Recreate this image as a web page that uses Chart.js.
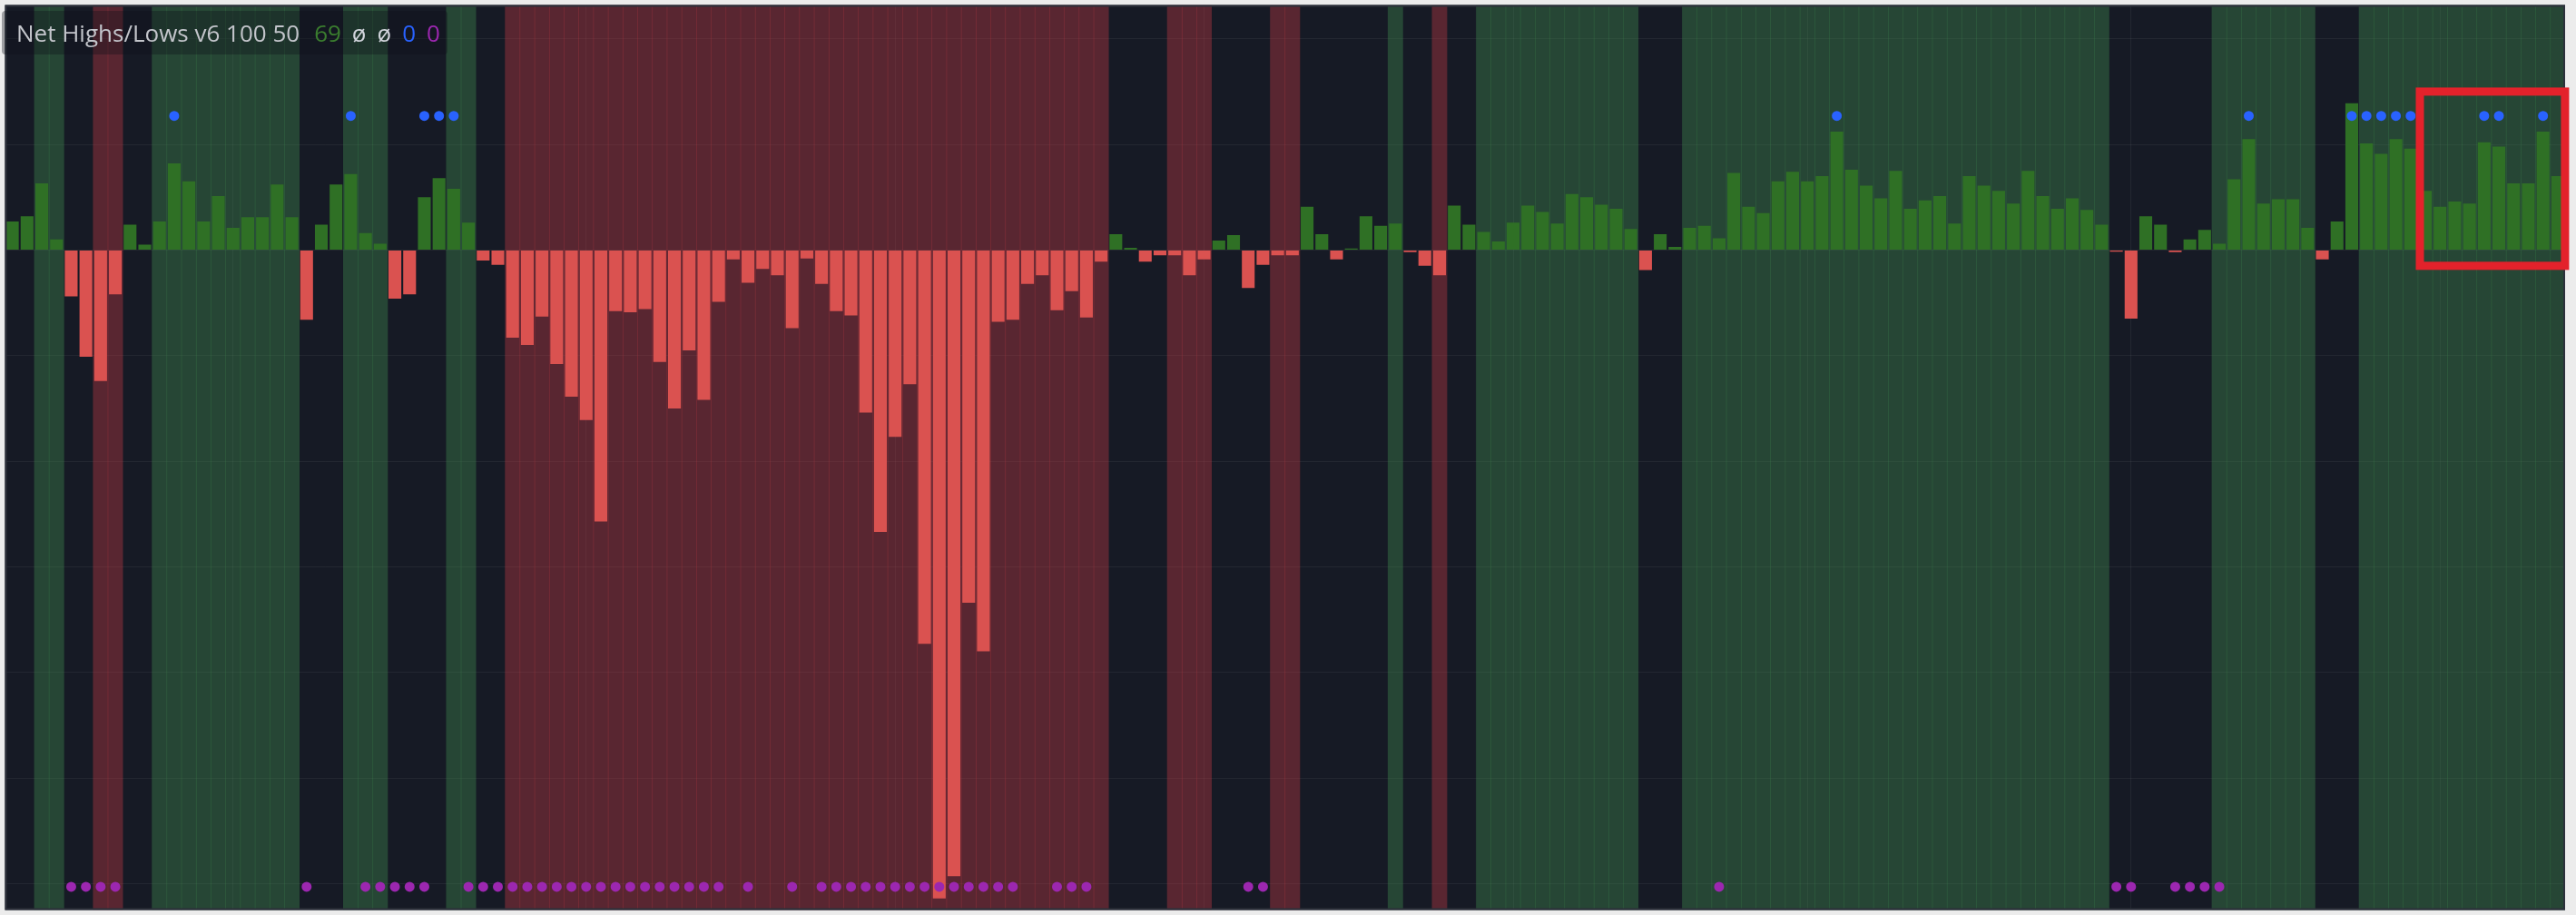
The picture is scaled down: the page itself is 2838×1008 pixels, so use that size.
<!DOCTYPE html>
<html lang="en">
<head>
<meta charset="UTF-8">
<title>Net Highs/Lows v6</title>
<script src="https://cdn.jsdelivr.net/npm/chart.js"></script>
<style>
    body {
        margin: 0;
        background: #ececec;
    }

    .wrap {
        position: relative;
        width: 2838px;
        height: 1008px;
    }

    .legend {
        position: absolute;
        left: 2px;
        top: 12px;
        height: 48px;
        line-height: 48px;
        padding: 0 8px 0 16px;
        background: rgba(14, 17, 26, 0.35);
        border-radius: 4px;
        font-family: "Open Sans", sans-serif;
        font-size: 26px;
        color: #c3c5cb;
        white-space: nowrap;
    }

    .legend span {
        margin-left: 12px;
    }

    .legend span.first {
        margin-left: 16px;
    }
</style>
</head>
<body>
<div class="wrap">
    <canvas id="nhnl"></canvas>
    <div class="legend">Net Highs/Lows v6 100 50<span class="first" style="color:#3b7d2f">69</span><span style="color:#d1d4dc">ø</span><span style="color:#d1d4dc">ø</span><span style="color:#2962ff">0</span><span style="color:#9c27b0">0</span></div>
</div>

<script>
    // net new highs minus new lows, one value per bar
    const netValues = [
        2.7, 3.2, 6.3, 1.0, -4.4, -10.1, -12.4, -4.2, 2.4, 0.5,
        2.7, 8.2, 6.5, 2.7, 5.1, 2.1, 3.1, 3.1, 6.2, 3.1,
        -6.6, 2.4, 6.2, 7.2, 1.6, 0.6, -4.6, -4.2, 5.0, 6.8,
        5.8, 2.6, -1.0, -1.4, -8.3, -9.0, -6.3, -10.8, -13.9, -16.1,
        -25.7, -5.8, -5.9, -5.6, -10.6, -15.0, -9.5, -14.2, -4.9, -0.9,
        -3.1, -1.8, -2.4, -7.4, -0.8, -3.2, -5.8, -6.2, -15.4, -26.7,
        -17.7, -12.7, -37.3, -61.4, -59.3, -33.4, -38.0, -6.8, -6.6, -3.2,
        -2.4, -5.7, -3.9, -6.4, -1.1, 1.5, 0.2, -1.1, -0.5, -0.5,
        -2.4, -0.9, 0.9, 1.4, -3.6, -1.4, -0.5, -0.5, 4.1, 1.5,
        -0.9, 0.15, 3.2, 2.3, 2.5, -0.2, -1.5, -2.4, 4.2, 2.4,
        1.7, 0.8, 2.6, 4.2, 3.6, 2.5, 5.3, 5.0, 4.3, 3.9,
        2.0, -1.9, 1.5, 0.3, 2.1, 2.3, 1.1, 7.3, 4.1, 3.5,
        6.5, 7.4, 6.5, 7.0, 11.2, 7.6, 6.1, 4.9, 7.5, 3.9,
        4.7, 5.1, 2.5, 7.0, 6.1, 5.6, 4.4, 7.5, 5.1, 3.9,
        4.9, 3.8, 2.4, -0.15, -6.5, 3.2, 2.4, -0.2, 1.0, 1.9,
        0.6, 6.7, 10.5, 4.4, 4.8, 4.8, 2.1, -0.9, 2.7, 13.9,
        10.1, 9.1, 10.5, 9.6, 5.6, 4.1, 4.6, 4.4, 10.2, 9.8,
        6.3, 6.3, 11.2, 7.0
    ];

    // background regime per bar: g = bullish, r = bearish, d = neutral
    const regimes = [
        'd','d','g','g','d','d','r','r','d','d',
        'g','g','g','g','g','g','g','g','g','g',
        'd','d','d','g','g','g','d','d','d','d',
        'g','g','d','d','r','r','r','r','r','r',
        'r','r','r','r','r','r','r','r','r','r',
        'r','r','r','r','r','r','r','r','r','r',
        'r','r','r','r','r','r','r','r','r','r',
        'r','r','r','r','r','d','d','d','d','r',
        'r','r','d','d','d','d','r','r','d','d',
        'd','d','d','d','g','d','d','r','d','d',
        'g','g','g','g','g','g','g','g','g','g',
        'g','d','d','d','g','g','g','g','g','g',
        'g','g','g','g','g','g','g','g','g','g',
        'g','g','g','g','g','g','g','g','g','g',
        'g','g','g','d','d','d','d','d','d','d',
        'g','g','g','g','g','g','g','d','d','d',
        'g','g','g','g','g','g','g','g','g','g',
        'g','g','g','g'
    ];

    // bar numbers (1-based) that carry a marker dot
    const newHighDots = [12, 24, 29, 30, 31, 125, 153, 160, 161, 162, 163, 164, 169, 170, 173];
    const newLowDots = [5, 6, 7, 8, 21, 25, 26, 27, 28, 29, 32, 33, 34,
        35, 36, 37, 38, 39, 40, 41, 42, 43, 44, 45, 46, 47, 48, 49, 51, 54,
        56, 57, 58, 59, 60, 61, 62, 63, 64, 65, 66, 67, 68, 69, 72, 73, 74,
        85, 86, 117, 144, 145, 148, 149, 150, 151];

    // bars where the month grid lines fall (0-based)
    const monthTicks = [15, 39, 60, 81, 102, 122, 144, 165];

    const labels = netValues.map((_, i) => String(i + 1));

    const Y_MIN = -62.5;
    const Y_MAX = 23.2;
    const HIGH_LEVEL = 12.7;
    const LOW_LEVEL = -60.3;

    const bandColors = {
        g: 'rgba(62, 138, 78, 0.4)',
        r: 'rgba(190, 58, 68, 0.4)',
        d: 'rgba(0, 0, 0, 0)'
    };

    // dark panel behind the plot
    const panelBg = {
        id: 'panelBg',
        beforeDraw(chart) {
            const { ctx, chartArea: a } = chart;
            ctx.save();
            ctx.fillStyle = '#161a25';
            ctx.fillRect(a.left, a.top, a.right - a.left, a.bottom - a.top);
            ctx.restore();
        },
        afterDraw(chart) {
            const { ctx, chartArea: a } = chart;
            ctx.save();
            ctx.strokeStyle = '#2c303b';
            ctx.lineWidth = 2;
            ctx.strokeRect(a.left + 1, a.top + 1, a.right - a.left - 2, a.bottom - a.top - 2);
            ctx.restore();
        }
    };

    // red highlight frame round the last bars
    const highlightBox = {
        id: 'highlightBox',
        afterDraw(chart) {
            const { ctx, scales: { x, y } } = chart;
            const left = x.getPixelForValue(164) - 6;
            const right = x.getPixelForValue(173) + 8;
            const top = y.getPixelForValue(15);
            const bottom = y.getPixelForValue(-1.5);
            ctx.save();
            ctx.strokeStyle = '#e3222b';
            ctx.lineWidth = 9;
            ctx.strokeRect(left, top, right - left, bottom - top);
            ctx.restore();
        }
    };

    const canvas = document.getElementById('nhnl');
    canvas.width = 2838;
    canvas.height = 1008;

    new Chart(canvas, {
        type: 'bar',
        data: {
            labels: labels,
            datasets: [
                {
                    type: 'line',
                    data: labels.map((_, i) => newHighDots.includes(i + 1) ? HIGH_LEVEL : null),
                    showLine: false,
                    pointRadius: 5.5,
                    pointBorderWidth: 0,
                    pointBackgroundColor: '#2962ff',
                    order: 1
                },
                {
                    type: 'line',
                    data: labels.map((_, i) => newLowDots.includes(i + 1) ? LOW_LEVEL : null),
                    showLine: false,
                    pointRadius: 5.5,
                    pointBorderWidth: 0,
                    pointBackgroundColor: '#9c27b0',
                    order: 2
                },
                {
                    data: netValues,
                    backgroundColor: netValues.map(v => v >= 0 ? '#2f7025' : '#da5250'),
                    barPercentage: 0.87,
                    categoryPercentage: 1,
                    grouped: false,
                    borderWidth: 0,
                    order: 5
                },
                {
                    data: regimes.map(() => [Y_MIN, Y_MAX]),
                    backgroundColor: regimes.map(s => bandColors[s]),
                    barPercentage: 1,
                    categoryPercentage: 1,
                    grouped: false,
                    borderWidth: 0,
                    order: 10
                }
            ]
        },
        options: {
            responsive: false,
            animation: false,
            layout: { padding: { left: 0, right: 12, top: 0, bottom: 0 } },
            plugins: {
                legend: { display: false },
                tooltip: { enabled: false }
            },
            scales: {
                x: {
                    offset: true,
                    ticks: { display: false, autoSkip: false },
                    border: { display: false },
                    grid: {
                        offset: false,
                        drawTicks: false,
                        color: ctx => monthTicks.includes(ctx.index) ? 'rgba(255, 255, 255, 0.06)' : 'rgba(0, 0, 0, 0)'
                    }
                },
                y: {
                    min: Y_MIN,
                    max: Y_MAX,
                    ticks: { display: false, stepSize: 10 },
                    afterBuildTicks: axis => {
                        axis.ticks = axis.ticks.filter(t => Math.abs(t.value % 10) < 1e-6);
                    },
                    border: { display: false },
                    grid: {
                        drawTicks: false,
                        color: 'rgba(255, 255, 255, 0.06)'
                    }
                }
            }
        },
        plugins: [panelBg, highlightBox]
    });
</script>
</body>
</html>
